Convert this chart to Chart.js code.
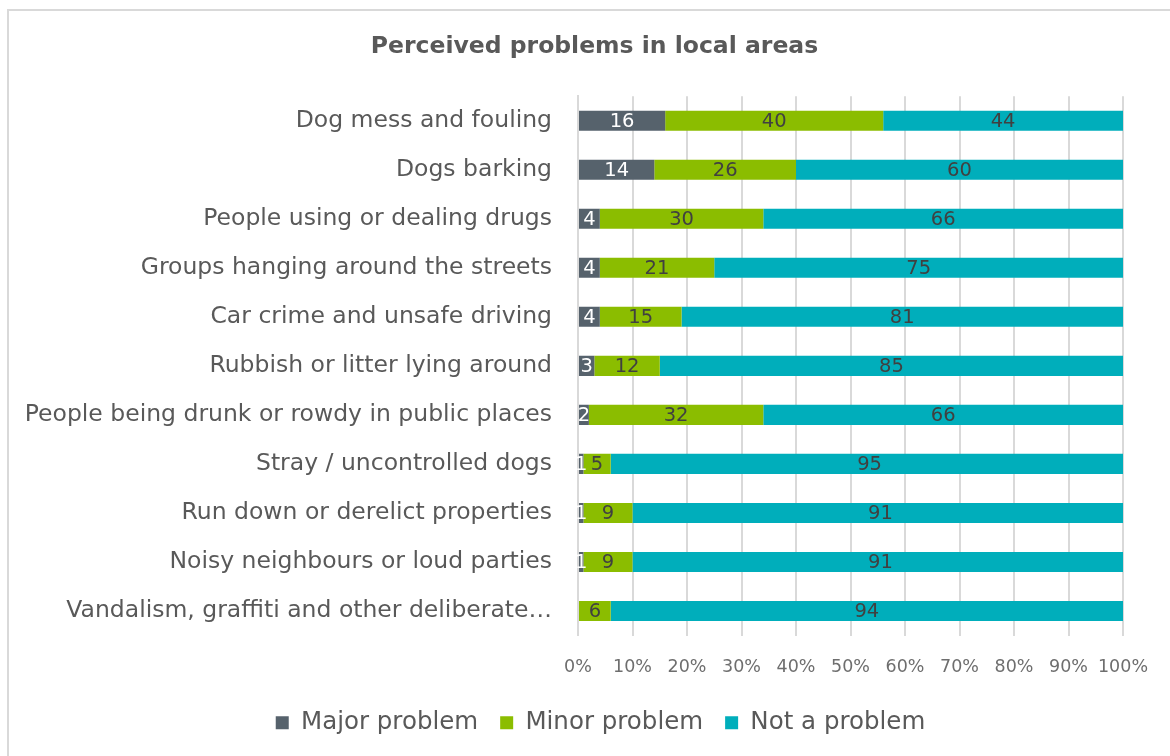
<!DOCTYPE html>
<html>
<head>
<meta charset="utf-8">
<script src="https://cdn.jsdelivr.net/npm/chart.js@4"></script>
<style>
  body { margin: 0; background: #fff; }
  #wrap { position: relative; width: 1170px; height: 756px; overflow: hidden; }
  #frame { position: absolute; left: 7px; top: 9px; width: 1200px; height: 800px;
           border: 2px solid #d9d9d9; box-sizing: border-box; pointer-events: none; }
  canvas { position: absolute; left: 0; top: 0; }
</style>
</head>
<body>
<div id="wrap">
  <canvas id="problems-chart" width="1170" height="756"></canvas>
  <div id="frame"></div>
</div>
<script>
// Categories (top to bottom)
const categories = [
    'Dog mess and fouling',
    'Dogs barking',
    'People using or dealing drugs',
    'Groups hanging around the streets',
    'Car crime and unsafe driving',
    'Rubbish or litter lying around',
    'People being drunk or rowdy in public places',
    'Stray / uncontrolled dogs',
    'Run down or derelict properties',
    'Noisy neighbours or loud parties',
    'Vandalism, graffiti and other deliberate\u2026'
];

// Series values (percent)
const majorProblem = [16, 14, 4, 4, 4, 3, 2, 1, 1, 1, 0];
const minorProblem = [40, 26, 30, 21, 15, 12, 32, 5, 9, 9, 6];
const notAProblem = [44, 60, 66, 75, 81, 85, 66, 95, 91, 91, 94];

// Tick labels on the x axis
const tickLabels = ['0%', '10%', '20%', '30%', '40%', '50%', '60%', '70%', '80%', '90%', '100%'];

const FONT = "'DejaVu Sans', sans-serif";

// Draw the value labels inside each bar segment
const barLabels = {
    id: 'barLabels',
    afterDatasetsDraw(chart) {
        const ctx = chart.ctx;
        ctx.save();
        ctx.font = '19.5px ' + FONT;
        ctx.textAlign = 'center';
        ctx.textBaseline = 'middle';
        chart.data.datasets.forEach((ds, i) => {
            const meta = chart.getDatasetMeta(i);
            meta.data.forEach((bar, j) => {
                const v = ds.data[j];
                if (!v) return;
                const x = (bar.x + bar.base) / 2;
                ctx.fillStyle = i === 0 ? '#ffffff' : '#404040';
                ctx.fillText(String(v), x, bar.y + 1);
            });
        });
        ctx.restore();
    }
};

// Title and legend sit a little right of the canvas centre in the original
const shiftHeader = {
    id: 'shiftHeader',
    afterLayout(chart) {
        if (chart.titleBlock) chart.titleBlock.left = 66;
        if (chart.legend) chart.legend.left = 78;
    }
};

const chartContext = document.getElementById('problems-chart').getContext('2d');

const chartOptions = {
    type: 'bar',
    data: {
        labels: categories,
        datasets: [
            { label: 'Major problem', data: majorProblem, backgroundColor: '#56626c' },
            { label: 'Minor problem', data: minorProblem, backgroundColor: '#8bbd00' },
            { label: 'Not a problem', data: notAProblem, backgroundColor: '#00aebb' }
        ]
    },
    options: {
        indexAxis: 'y',
        responsive: false,
        animation: false,
        barPercentage: 0.82,
        categoryPercentage: 0.5,
        layout: { padding: { left: 0, right: 47, top: 0, bottom: 11 } },
        plugins: {
            title: {
                display: true,
                text: 'Perceived problems in local areas',
                color: '#595959',
                font: { family: FONT, size: 23.5, weight: 'bold' },
                padding: { top: 33, bottom: 35 }
            },
            legend: {
                position: 'bottom',
                labels: {
                    color: '#595959',
                    font: { family: FONT, size: 24.5 },
                    boxWidth: 13,
                    boxHeight: 13,
                    padding: 22
                }
            },
            tooltip: { enabled: false }
        },
        scales: {
            x: {
                stacked: true,
                min: 0,
                max: 100,
                grid: { color: '#d9d9d9', lineWidth: 2, drawTicks: false },
                border: { display: false },
                ticks: {
                    stepSize: 10,
                    color: '#6e6e6e',
                    padding: 21,
                    maxRotation: 0,
                    minRotation: 0,
                    autoSkip: false,
                    font: { family: FONT, size: 17.5 },
                    callback: (value, index) => tickLabels[index]
                },
                afterFit(scale) { scale.height = 53; }
            },
            y: {
                stacked: true,
                grid: { display: false },
                border: { display: true, color: '#d9d9d9', width: 2 },
                ticks: {
                    color: '#595959',
                    padding: 18,
                    font: { family: FONT, size: 23.5 }
                },
                afterFit(scale) { scale.width = 578; }
            }
        }
    },
    plugins: [barLabels, shiftHeader]
};

const problemsChart = new Chart(chartContext, chartOptions);
</script>
</body>
</html>
